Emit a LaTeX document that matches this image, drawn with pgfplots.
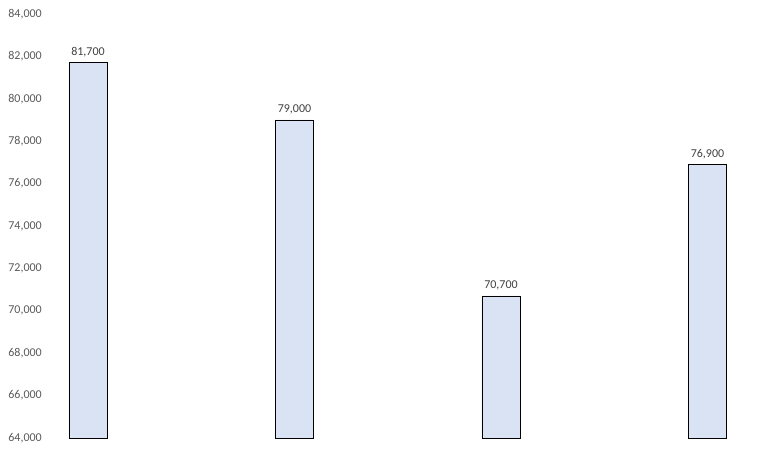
\documentclass[border=0pt]{standalone}
\usepackage{fontspec}
\setmainfont{Carlito}
\usepackage{pgfplots}
\pgfplotsset{compat=1.18}
\definecolor{barfill}{HTML}{DAE3F3}
\definecolor{ticktxt}{HTML}{595959}
\definecolor{lbltxt}{HTML}{404040}
\begin{document}
\begin{tikzpicture}
\begin{axis}[
  scale only axis,
  width=707pt, height=424pt,
  xmin=-0.184, xmax=3.24,
  ymin=64000, ymax=84000,
  ytick={64000,66000,...,84000},
  xtick=\empty,
  scaled y ticks=false,
  axis line style={draw=none},
  tick style={draw=none},
  /pgf/number format/.cd, 1000 sep={,}, assume math mode=true,
  /pgfplots/.cd,
  yticklabel style={font=\fontsize{12}{14}\selectfont, text=ticktxt, inner sep=0pt, xshift=-8pt},
  ybar, bar width=38pt,
  nodes near coords,
  nodes near coords style={font=\fontsize{12}{14}\selectfont, text=lbltxt, yshift=2pt},
  clip=false,
]
\addplot[fill=barfill, draw=black, line width=0.8pt] coordinates {(0,81700) (1,79000) (2,70700) (3,76900)};
\path (rel axis cs:0,0) ++(-50pt,-16pt);
\path (rel axis cs:1,1) ++(0pt,14pt);
\end{axis}
\end{tikzpicture}
\end{document}
